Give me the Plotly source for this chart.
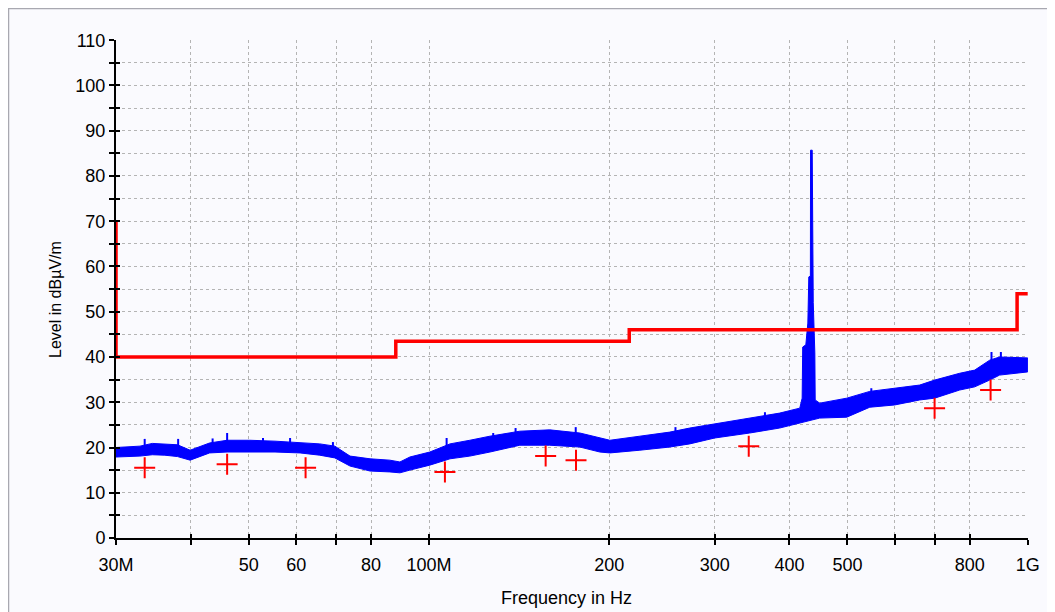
import math
import plotly.graph_objects as go

# ---------------- data (frequencies in MHz, levels in dBµV/m) ----------------
env_freq = [30.0, 32.9, 34.5, 36.2, 38.0, 39.9, 43.0, 46.0, 47.0, 50.2, 55.3, 60.9,
            65.7, 69.6, 73.8, 79.7, 86.0, 89.4, 92.9, 100.3, 108.4, 117.0, 126.4,
            141.8, 159.1, 178.6, 192.9, 200.5, 225.0, 252.4, 272.6, 300.1, 343.3,
            385.2, 416.2, 449.3, 498.6, 544.8, 599.5, 660.0, 699.2, 769.8, 815.6,
            864.0, 897.6, 1000.0]
env_upper = [20.0, 20.3, 20.9, 20.8, 20.6, 19.4, 21.0, 21.6, 21.6, 21.6, 21.4, 21.0,
             20.8, 20.3, 18.1, 17.5, 17.2, 16.8, 17.9, 19.0, 20.8, 21.6, 22.5,
             23.6, 23.9, 23.2, 22.1, 21.6, 22.5, 23.4, 24.3, 25.2, 26.5,
             27.6, 28.7, 29.8, 30.9, 32.4, 33.1, 33.8, 34.9, 36.4, 37.1,
             39.3, 40.0, 39.8]
env_lower = [17.9, 18.1, 18.4, 18.3, 18.0, 17.2, 18.8, 19.0, 19.0, 19.0, 19.0, 18.8,
             18.3, 17.7, 15.9, 14.8, 14.6, 14.4, 15.0, 16.1, 17.5, 18.1, 19.0,
             20.5, 20.5, 20.1, 19.0, 18.8, 19.4, 20.1, 20.8, 22.1, 23.2,
             24.3, 25.4, 26.5, 26.7, 28.9, 29.4, 30.5, 30.9, 32.7, 33.4,
             34.9, 36.0, 36.7]

# narrow noise spikes standing out of the band
spike_freq = [33.5, 38.1, 43.5, 46.0, 52.8, 58.6, 69.1, 107.0, 128.0, 139.5, 175.8,
              258.0, 364.0, 548.0, 870.0, 902.0]
spike_top = [21.9, 21.9, 22.0, 23.2, 22.1, 22.1, 21.2, 22.1, 23.2, 24.3, 24.5,
             24.5, 27.8, 33.1, 41.1, 41.1]
spike_base = [19.0, 19.0, 19.5, 20.0, 20.0, 20.0, 18.5, 18.5, 20.0, 21.0, 21.0,
              21.5, 24.5, 30.0, 37.0, 37.0]

peak_freq = [420.0, 420.9, 426.0, 429.3, 430.9, 433.5, 433.8, 436.6, 437.1, 438.3, 441.0, 441.6]
peak_level = [30.9, 42.2, 42.7, 47.5, 57.7, 57.9, 85.7, 85.7, 57.7, 52.0, 40.9, 30.5]

limit_freq = [30, 30, 88, 216, 960, 1000]
limit_level = [70, 40, 43.5, 46, 54, 54]

mark_freq = [33.5, 46.0, 62.2, 106.3, 156.6, 176.0, 342.0, 699.0, 867.0]
mark_level = [15.5, 16.3, 15.5, 14.6, 18.1, 17.2, 20.3, 28.7, 32.7]

x_tick_vals = [30, 40, 50, 60, 70, 80, 100, 200, 300, 400, 500, 600, 700, 800, 1000]
x_tick_text = ['30M', '', '50', '60', '', '80', '100M', '200', '300', '400', '500', '', '', '800', '1G']
y_tick_vals = list(range(0, 115, 5))
y_tick_text = [str(v) if v % 10 == 0 else '' for v in y_tick_vals]

# ---------------- geometry of the page ----------------
# the page body has an 8 px margin, so the figure is 8 px smaller than the window
W, H = 1047, 604
L, T, PW, PH = 108, 32, 912, 498
R = W - L - PW
B = H - T - PH

def px(xw):  # window x -> paper fraction
    return (xw - 8 - L) / PW

def py(yw):  # window y -> paper fraction
    return (T + PH - (yw - 8)) / PH

# ---------------- build upper outline with the peak inserted ----------------
pts = sorted(list(zip(env_freq, env_upper)) + list(zip(peak_freq, peak_level)))
up_f = [p[0] for p in pts]
up_l = [p[1] for p in pts]
poly_f = up_f + env_freq[::-1]
poly_l = up_l + env_lower[::-1]

sp_x, sp_y = [], []
for f, t, b in zip(spike_freq, spike_top, spike_base):
    sp_x += [f, f, None]
    sp_y += [b, t, None]

FONT = "Liberation Sans, Arial, sans-serif"
BLUE = "#0000ff"
RED = "#ff0000"

fig = go.Figure()
fig.add_trace(go.Scatter(x=poly_f, y=poly_l, mode="lines", fill="toself",
                         fillcolor=BLUE, line=dict(color=BLUE, width=1),
                         hoverinfo="skip", showlegend=False))
fig.add_trace(go.Scatter(x=sp_x, y=sp_y, mode="lines",
                         line=dict(color=BLUE, width=2),
                         hoverinfo="skip", showlegend=False))
fig.add_trace(go.Scatter(x=limit_freq, y=limit_level, mode="lines", line_shape="hv",
                         line=dict(color=RED, width=3.5), showlegend=False))
fig.add_trace(go.Scatter(x=mark_freq, y=mark_level, mode="markers",
                         marker=dict(symbol="cross-thin", size=15,
                                     line=dict(color=RED, width=2), color=RED),
                         showlegend=False))
# invisible trace to carry the overlay axes (inner half of crossing ticks)
fig.add_trace(go.Scatter(x=[100], y=[50], xaxis="x2", yaxis="y2", mode="markers",
                         marker=dict(opacity=0), hoverinfo="skip", showlegend=False))

xr = [math.log10(30), math.log10(1000) + 0.0005]
yr = [0, 110.05]

grid = dict(showgrid=True, gridcolor="#b4b4b4", griddash="dot", gridwidth=1)

fig.update_layout(
    width=W, height=H,
    margin=dict(l=L, r=R, t=T, b=B, pad=0),
    paper_bgcolor="#fafafe",
    plot_bgcolor="rgba(0,0,0,0)",
    font=dict(family=FONT, size=18, color="black"),
    xaxis=dict(type="log", range=xr, tickmode="array", tickvals=x_tick_vals,
               ticktext=x_tick_text, ticks="outside", ticklen=5, tickwidth=2,
               tickcolor="black", showline=True, linecolor="black", linewidth=2,
               zeroline=False, ticklabelstandoff=4, **grid),
    yaxis=dict(range=yr, tickmode="array", tickvals=y_tick_vals, ticktext=y_tick_text,
               ticks="outside", ticklen=5, tickwidth=2, tickcolor="black",
               showline=True, linecolor="black", linewidth=2, zeroline=False,
               ticklabelstandoff=0, **grid),
    xaxis2=dict(type="log", range=xr, overlaying="x", side="bottom", anchor="y",
                tickmode="array", tickvals=x_tick_vals, ticks="inside", ticklen=4,
                tickwidth=2, tickcolor="black", showticklabels=False, showgrid=False,
                showline=False, zeroline=False),
    yaxis2=dict(range=yr, overlaying="y", side="left", anchor="x",
                tickmode="array", tickvals=y_tick_vals, ticks="inside", ticklen=4,
                tickwidth=2, tickcolor="black", showticklabels=False, showgrid=False,
                showline=False, zeroline=False),
    shapes=[dict(type="rect", xref="paper", yref="paper",
                 x0=px(8.5), x1=px(1050), y0=py(640), y1=py(8.5),
                 fillcolor="rgba(0,0,0,0)", line=dict(color="#a8a8b0", width=1.5),
                 layer="below")],
    annotations=[
        dict(text="Frequency in Hz", xref="paper", yref="paper",
             x=px(566), y=py(598), showarrow=False,
             xanchor="center", yanchor="middle", font=dict(size=18)),
        dict(text="Level in dBµV/m", xref="paper", yref="paper",
             x=px(55), y=py(300), showarrow=False,
             textangle=-90, xanchor="center", yanchor="middle", font=dict(size=16)),
    ],
)

fig.write_html("out.html")
